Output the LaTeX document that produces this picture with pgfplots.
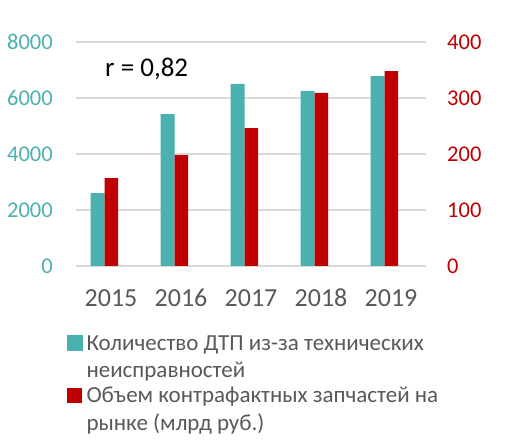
\documentclass[border=0pt]{standalone}
\usepackage{fontspec}
\setmainfont{Carlito}
\usepackage{pgfplots}
\pgfplotsset{compat=1.18}

\definecolor{tealbar}{RGB}{75,177,176}
\definecolor{redbar}{RGB}{192,0,0}
\definecolor{txtgray}{RGB}{89,89,89}
\definecolor{gridgray}{RGB}{217,217,217}

\pgfplotsset{
  common/.style={
    at={(76pt,180pt)}, anchor=south west,
    scale only axis, width=350pt, height=224pt,
    xmin=-0.5, xmax=4.5, ymin=0,
    axis line style={draw=none},
    major tick length=0pt,
    /pgf/number format/assume math mode=true,
    /pgf/number format/1000 sep={},
  },
}

\begin{document}
\begin{tikzpicture}[x=1pt,y=1pt]
\useasboundingbox (0,0) rectangle (509,446);

% left axis: accidents
\begin{axis}[common,
  ymax=8000, ytick={0,2000,4000,6000,8000},
  ymajorgrids, grid style={draw=gridgray, line width=1.1pt},
  xtick={0,1,2,3,4},
  xticklabels={2015,2016,2017,2018,2019},
  xticklabel style={font=\fontsize{26}{30}\selectfont, text=txtgray, inner sep=0pt, yshift=-23pt},
  yticklabel style={font=\fontsize{22.5}{27}\selectfont, text=tealbar, inner sep=0pt, xshift=-23pt},
]
  \addplot[ybar, bar width=0.2, bar shift=-0.19, fill=tealbar, draw=none] coordinates {
    (0,2600) (1,5420) (2,6500) (3,6250) (4,6780)
  };
  \node[anchor=base west, inner sep=0pt, font=\fontsize{27}{31}\selectfont]
    at (rel axis cs:0.083,0.845) {r = 0,82};
\end{axis}

% right axis: counterfeit parts
\begin{axis}[common,
  ymax=400, ytick={0,100,200,300,400},
  xtick=\empty,
  yticklabel pos=right,
  yticklabel style={font=\fontsize{22.5}{27}\selectfont, text=redbar, inner sep=0pt, xshift=21pt, anchor=west},
  legend style={at={(-0.026,-0.281)}, anchor=north west, draw=none, fill=none,
    inner sep=0pt, row sep=27.5pt,
    font=\fontsize{23}{27.5}\selectfont, text=txtgray,
    cells={anchor=base west},
    /tikz/every odd column/.append style={column sep=2pt}},
]
  \addlegendimage{legend image code/.code={\fill[tealbar] (0pt,0pt) rectangle (15pt,15pt);}}
  \addlegendentry{\begin{tabular}[t]{@{}l@{}}Количество ДТП из-за технических\\неисправностей\end{tabular}}
  \addplot[ybar, bar width=0.19, bar shift=0.005, fill=redbar, draw=none,
    legend image code/.code={\fill[redbar] (0pt,0pt) rectangle (15pt,15pt);}] coordinates {
    (0,157) (1,198) (2,246) (3,309) (4,348)
  };
  \addlegendentry{\begin{tabular}[t]{@{}l@{}}Объем контрафактных запчастей на\\рынке (млрд руб.)\end{tabular}}
\end{axis}
\end{tikzpicture}
\end{document}
